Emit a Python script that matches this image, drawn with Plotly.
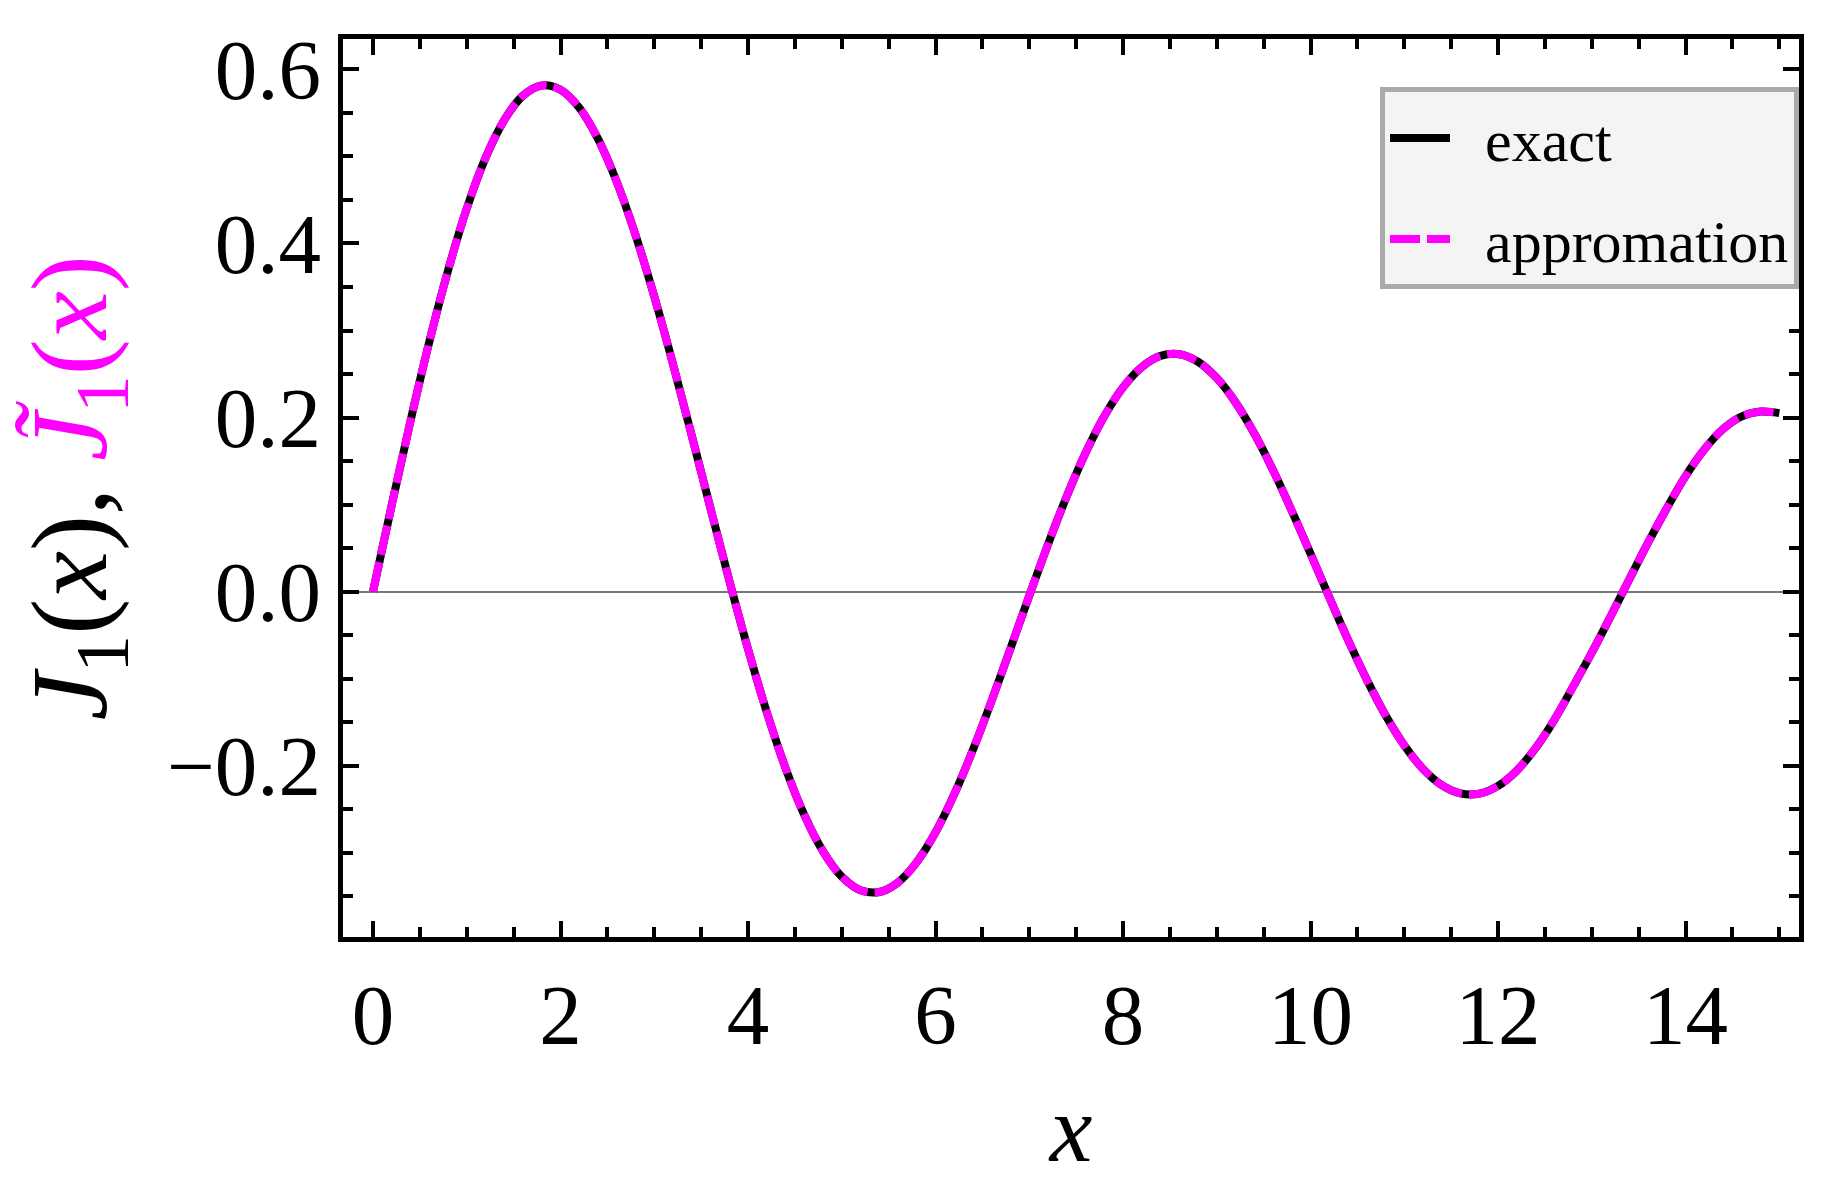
import plotly.graph_objects as go

# values
x_vals = [0.0, 0.2, 0.4, 0.6, 0.8, 1.0, 1.2, 1.4, 1.6, 1.8, 2.0, 2.2, 2.4, 2.6, 2.8,
          3.0, 3.2, 3.4, 3.6, 3.8, 4.0, 4.2, 4.4, 4.6, 4.8, 5.0, 5.2, 5.4, 5.6, 5.8,
          6.0, 6.2, 6.4, 6.6, 6.8, 7.0, 7.2, 7.4, 7.6, 7.8, 8.0, 8.2, 8.4, 8.6, 8.8,
          9.0, 9.2, 9.4, 9.6, 9.8, 10.0, 10.2, 10.4, 10.6, 10.8, 11.0, 11.2, 11.4,
          11.6, 11.8, 12.0, 12.2, 12.4, 12.6, 12.8, 13.0, 13.2, 13.4, 13.6, 13.8,
          14.0, 14.2, 14.4, 14.6, 14.8, 15.0]
exact_vals = [0.0, 0.0995, 0.196, 0.2867, 0.3688, 0.4401, 0.4983, 0.5419, 0.5699,
              0.5815, 0.5767, 0.556, 0.5202, 0.4708, 0.4097, 0.3391, 0.2613, 0.1792,
              0.0955, 0.0128, -0.066, -0.1386, -0.2028, -0.2566, -0.2985, -0.3276,
              -0.3432, -0.3453, -0.3343, -0.311, -0.2767, -0.2329, -0.1816, -0.125,
              -0.0652, -0.0047, 0.0543, 0.1096, 0.1592, 0.2014, 0.2346, 0.258, 0.2708,
              0.2728, 0.2641, 0.2453, 0.2174, 0.1816, 0.1395, 0.0928, 0.0435, -0.0066,
              -0.0555, -0.1012, -0.1422, -0.1768, -0.2039, -0.2225, -0.232, -0.2323,
              -0.2234, -0.2057, -0.18, -0.1474, -0.1093, -0.0703, -0.0287, 0.0141,
              0.0561, 0.0958, 0.1327, 0.1632, 0.1867, 0.2012, 0.2068, 0.2051]
approx_vals = list(exact_vals)

x_ticks = [0, 2, 4, 6, 8, 10, 12, 14]
y_ticks = [-0.2, 0.0, 0.2, 0.4, 0.6]
y_tick_text = ['\u22120.2', '0.0', '0.2', '0.4', '0.6']

SERIF = 'Liberation Serif'
MAGENTA = '#ff00ff'
PAD = '\u00a0\u00a0'  # gap between legend sample and label

fig = go.Figure()

fig.add_trace(go.Scatter(
    x=x_vals, y=exact_vals, mode='lines', name=PAD + 'exact',
    line=dict(color='black', width=8, shape='spline'),
    legendgroup='a'
))
fig.add_trace(go.Scatter(
    x=x_vals, y=approx_vals, mode='lines', name=PAD + 'appromation',
    line=dict(color=MAGENTA, width=8, shape='spline', dash='30px,7px'),
    legendgroup='b'
))

axis_common = dict(
    showgrid=False,
    showline=True,
    linecolor='black',
    linewidth=5,
    mirror='ticks',
    ticks='inside',
    ticklen=16,
    tickwidth=4,
    tickcolor='black',
    tickfont=dict(family=SERIF, size=85, color='black'),
)

fig.update_xaxes(
    **axis_common,
    range=[-0.32, 15.21],
    tickvals=x_ticks,
    zeroline=False,
    minor=dict(dtick=0.5, ticks='inside', ticklen=10, tickwidth=4, tickcolor='black'),
    title=dict(text='<i>x</i>', font=dict(family=SERIF, size=96, color='black'), standoff=34),
)
fig.update_yaxes(
    **axis_common,
    range=[-0.397, 0.635],
    tickvals=y_ticks,
    ticktext=y_tick_text,
    zeroline=True,
    zerolinecolor='#777777',
    zerolinewidth=1.5,
    minor=dict(dtick=0.05, ticks='inside', ticklen=10, tickwidth=4, tickcolor='black'),
    title=dict(
        text='<i>J</i><sub>1</sub>(<i>x</i>), '
             '<span style="color:#ff00ff"><i>J\u0303</i><sub>1</sub>(<i>x</i>)</span>',
        font=dict(family=SERIF, size=108, color='black'),
        standoff=26,
    ),
)

fig.update_layout(
    width=1826,
    height=1195,
    plot_bgcolor='white',
    paper_bgcolor='white',
    margin=dict(l=335, r=35, t=31, b=266),
    font=dict(family=SERIF, color='black'),
    showlegend=True,
    legend=dict(
        x=1, y=0.946, xanchor='right', yanchor='top',
        bgcolor='#f4f4f4', bordercolor='#aaaaaa', borderwidth=5,
        font=dict(family=SERIF, size=60, color='black'),
        tracegroupgap=20,
        traceorder='grouped',
        itemwidth=60,
    ),
)

fig.write_html("out.html")
